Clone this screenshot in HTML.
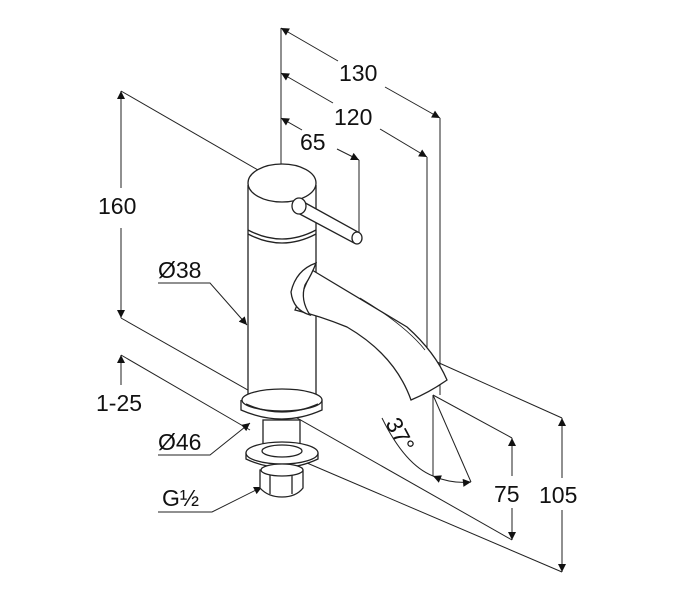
<!DOCTYPE html>
<html><head><style>
html,body{margin:0;padding:0;background:#fff;}
svg{display:block;}
text{font-family:"Liberation Sans",sans-serif;font-size:23px;fill:#111;}
</style></head><body>
<svg width="680" height="600" viewBox="0 0 680 600">
<defs>
<marker id="a" viewBox="0 0 10 10" refX="10" refY="5" markerWidth="14" markerHeight="8" orient="auto-start-reverse" markerUnits="userSpaceOnUse"><path d="M0,0 L10,5 L0,10 z" fill="#111"/></marker>
</defs>
<g stroke="#222" stroke-width="1" fill="none">
<line x1="121" y1="91" x2="121" y2="188" marker-start="url(#a)"/>
<line x1="121" y1="228" x2="121" y2="318" marker-end="url(#a)"/>
<line x1="121" y1="91" x2="258" y2="170"/>
<line x1="121" y1="318" x2="512" y2="540"/>
<line x1="121" y1="385" x2="121" y2="355" marker-end="url(#a)"/>
<line x1="121" y1="355" x2="250" y2="430"/>
<line x1="300" y1="460" x2="562" y2="572"/>
<line x1="281" y1="28" x2="281" y2="170"/>
<line x1="281" y1="28" x2="338" y2="61" marker-start="url(#a)"/>
<line x1="385" y1="87" x2="440" y2="118" marker-end="url(#a)"/>
<line x1="440" y1="118" x2="440" y2="395"/>
<line x1="281" y1="73" x2="333" y2="103" marker-start="url(#a)"/>
<line x1="380" y1="129" x2="427" y2="157" marker-end="url(#a)"/>
<line x1="427" y1="157" x2="427" y2="390"/>
<line x1="433" y1="395" x2="433" y2="476"/>
<line x1="281" y1="118" x2="302" y2="130" marker-start="url(#a)"/>
<line x1="337" y1="149" x2="359" y2="160" marker-end="url(#a)"/>
<line x1="359" y1="160" x2="359" y2="238"/>
<line x1="433" y1="395" x2="512" y2="438"/>
<line x1="437" y1="362" x2="562" y2="418"/>
<line x1="512" y1="438" x2="512" y2="476" marker-start="url(#a)"/>
<line x1="512" y1="508" x2="512" y2="540" marker-end="url(#a)"/>
<line x1="562" y1="418" x2="562" y2="478" marker-start="url(#a)"/>
<line x1="562" y1="510" x2="562" y2="572" marker-end="url(#a)"/>
<line x1="433" y1="395" x2="471" y2="482"/>
<path d="M382,418 Q405,465 433,476" />
<path d="M433,476 Q452,484 471,482" marker-start="url(#a)" marker-end="url(#a)"/>
<polyline points="158,283 210,283 247,325" marker-end="url(#a)"/>
<polyline points="158,455 210,455 250,423" marker-end="url(#a)"/>
<polyline points="158,512 212,512 262,487" marker-end="url(#a)"/>
</g>
<g stroke="#222" stroke-width="1.3" fill="#fff">
<path d="M248,185 L248,395 L316,395 L316,185"/>
<ellipse cx="282" cy="183" rx="34" ry="19"/>
<path d="M248,230 Q282,248 316,230" fill="none"/>
<path d="M248,234 Q282,252 316,234" fill="none"/>
<path d="M300,200 L358,232 L354,243 L296,212 z"/>
<ellipse cx="357" cy="238" rx="5" ry="6"/>
<ellipse cx="299" cy="206" rx="7" ry="8"/>
<path d="M312,270 Q357,297 407,327 Q435,352 447,380 Q430,392 411,400 Q395,355 347,327 Q320,316 295,310 z"/>
<path d="M316,263 Q296,270 291,292 Q293,310 310,315 Q300,300 305,285 Q312,274 316,263 z"/>
<path d="M360,298 Q405,325 425,350" fill="none" stroke-width="0.8"/>
<path d="M241,400 L241,410 Q282,428 322,410 L322,400"/>
<ellipse cx="282" cy="400" rx="40" ry="11"/>
<path d="M246,404 Q282,420 318,404" fill="none"/>
<rect x="263" y="420" width="37" height="32"/>
<path d="M246,453 L246,459 Q282,476 318,459 L318,453"/>
<ellipse cx="282" cy="453" rx="36" ry="11"/>
<ellipse cx="282" cy="451" rx="20" ry="6"/>
<path d="M260,470 L260,488 Q268,497 282,497 Q296,497 303,488 L303,470 z"/>
<line x1="270" y1="472" x2="270" y2="494"/>
<line x1="292" y1="472" x2="292" y2="494"/>
<ellipse cx="282" cy="470" rx="21" ry="6"/>
</g>
<text x="98" y="214">160</text>
<text x="96" y="411">1-25</text>
<text x="339" y="81">130</text>
<text x="334" y="125">120</text>
<text x="300" y="150">65</text>
<text x="158" y="278">Ø38</text>
<text x="158" y="450">Ø46</text>
<text x="162" y="506">G½</text>
<text x="494" y="502">75</text>
<text x="539" y="503">105</text>
<text x="0" y="0" transform="translate(385,423) rotate(62)">37°</text>
</svg>
</body></html>
